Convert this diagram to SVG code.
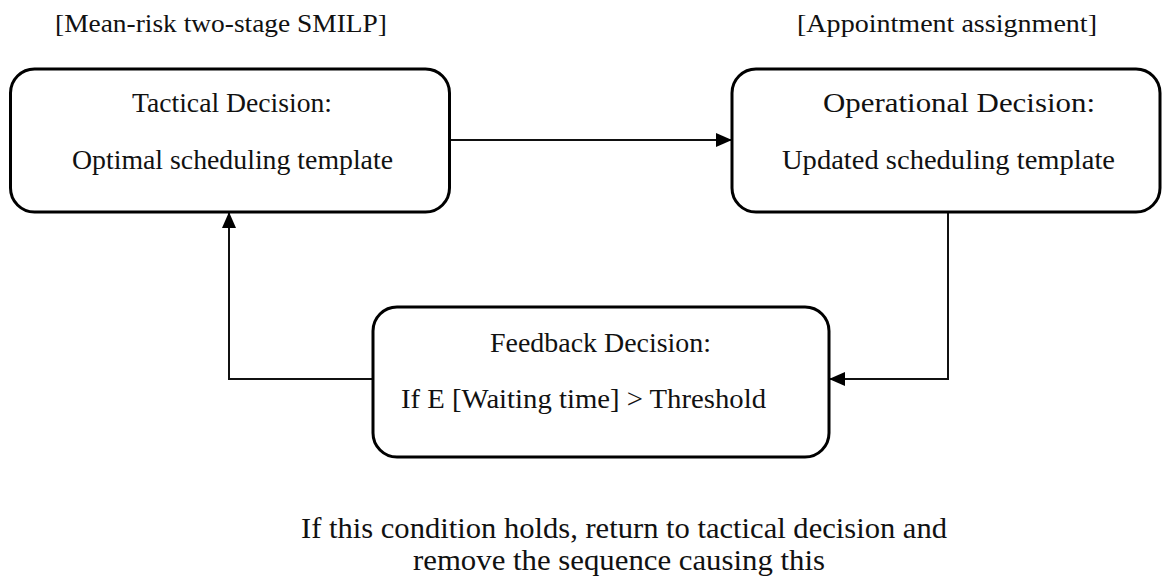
<svg xmlns="http://www.w3.org/2000/svg" width="1163" height="579" viewBox="0 0 1163 579">
  <defs>
    <style>
      .box { fill: #ffffff; stroke: #000000; stroke-width: 3; }
      .conn { fill: none; stroke: #111111; stroke-width: 2; }
      text { font-family: "Liberation Serif", "Times New Roman", serif; fill: #111111; }
      .title { font-size: 25px; }
      .label { font-size: 27px; }
      .note { font-size: 30px; }
    </style>
    <marker id="arrow" markerUnits="userSpaceOnUse" markerWidth="16" markerHeight="14" refX="16" refY="7" orient="auto">
      <path d="M0,0 L16,7 L0,14 Z" fill="#000000"/>
    </marker>
  </defs>

  <rect width="1163" height="579" fill="#ffffff"/>

  <!-- stage titles -->
  <text class="title" x="55" y="32" textLength="332" lengthAdjust="spacingAndGlyphs">[Mean-risk two-stage SMILP]</text>
  <text class="title" x="797" y="32" textLength="300" lengthAdjust="spacingAndGlyphs">[Appointment assignment]</text>

  <!-- connectors -->
  <g id="connectors">
    <path class="conn" d="M449.5,140 L732,140" marker-end="url(#arrow)"/>
    <path class="conn" d="M948,212 L948,379 L829,379" marker-end="url(#arrow)"/>
    <path class="conn" d="M373,379 L229,379 L229,212" marker-end="url(#arrow)"/>
  </g>

  <g id="tactical">
    <rect class="box" x="10.5" y="69" width="439" height="143" rx="24" ry="24"/>
    <text class="label" x="132" y="112" textLength="200" lengthAdjust="spacingAndGlyphs">Tactical Decision:</text>
    <text class="label" x="72" y="169" textLength="321" lengthAdjust="spacingAndGlyphs">Optimal scheduling template</text>
  </g>

  <g id="operational">
    <rect class="box" x="732" y="69" width="428" height="143" rx="24" ry="24"/>
    <text class="label" x="823" y="112" textLength="272" lengthAdjust="spacingAndGlyphs">Operational Decision:</text>
    <text class="label" x="782" y="169" textLength="333" lengthAdjust="spacingAndGlyphs">Updated scheduling template</text>
  </g>

  <g id="feedback">
    <rect class="box" x="373" y="307" width="456" height="150" rx="24" ry="24"/>
    <text class="label" x="490" y="352" textLength="221" lengthAdjust="spacingAndGlyphs">Feedback Decision:</text>
    <text class="label" x="401" y="408" textLength="365" lengthAdjust="spacingAndGlyphs">If E [Waiting time] &gt; Threshold</text>
  </g>

  <!-- explanatory note -->
  <text class="note" x="301" y="538" textLength="646" lengthAdjust="spacingAndGlyphs">If this condition holds, return to tactical decision and</text>
  <text class="note" x="413" y="570" textLength="412" lengthAdjust="spacingAndGlyphs">remove the sequence causing this</text>
</svg>
